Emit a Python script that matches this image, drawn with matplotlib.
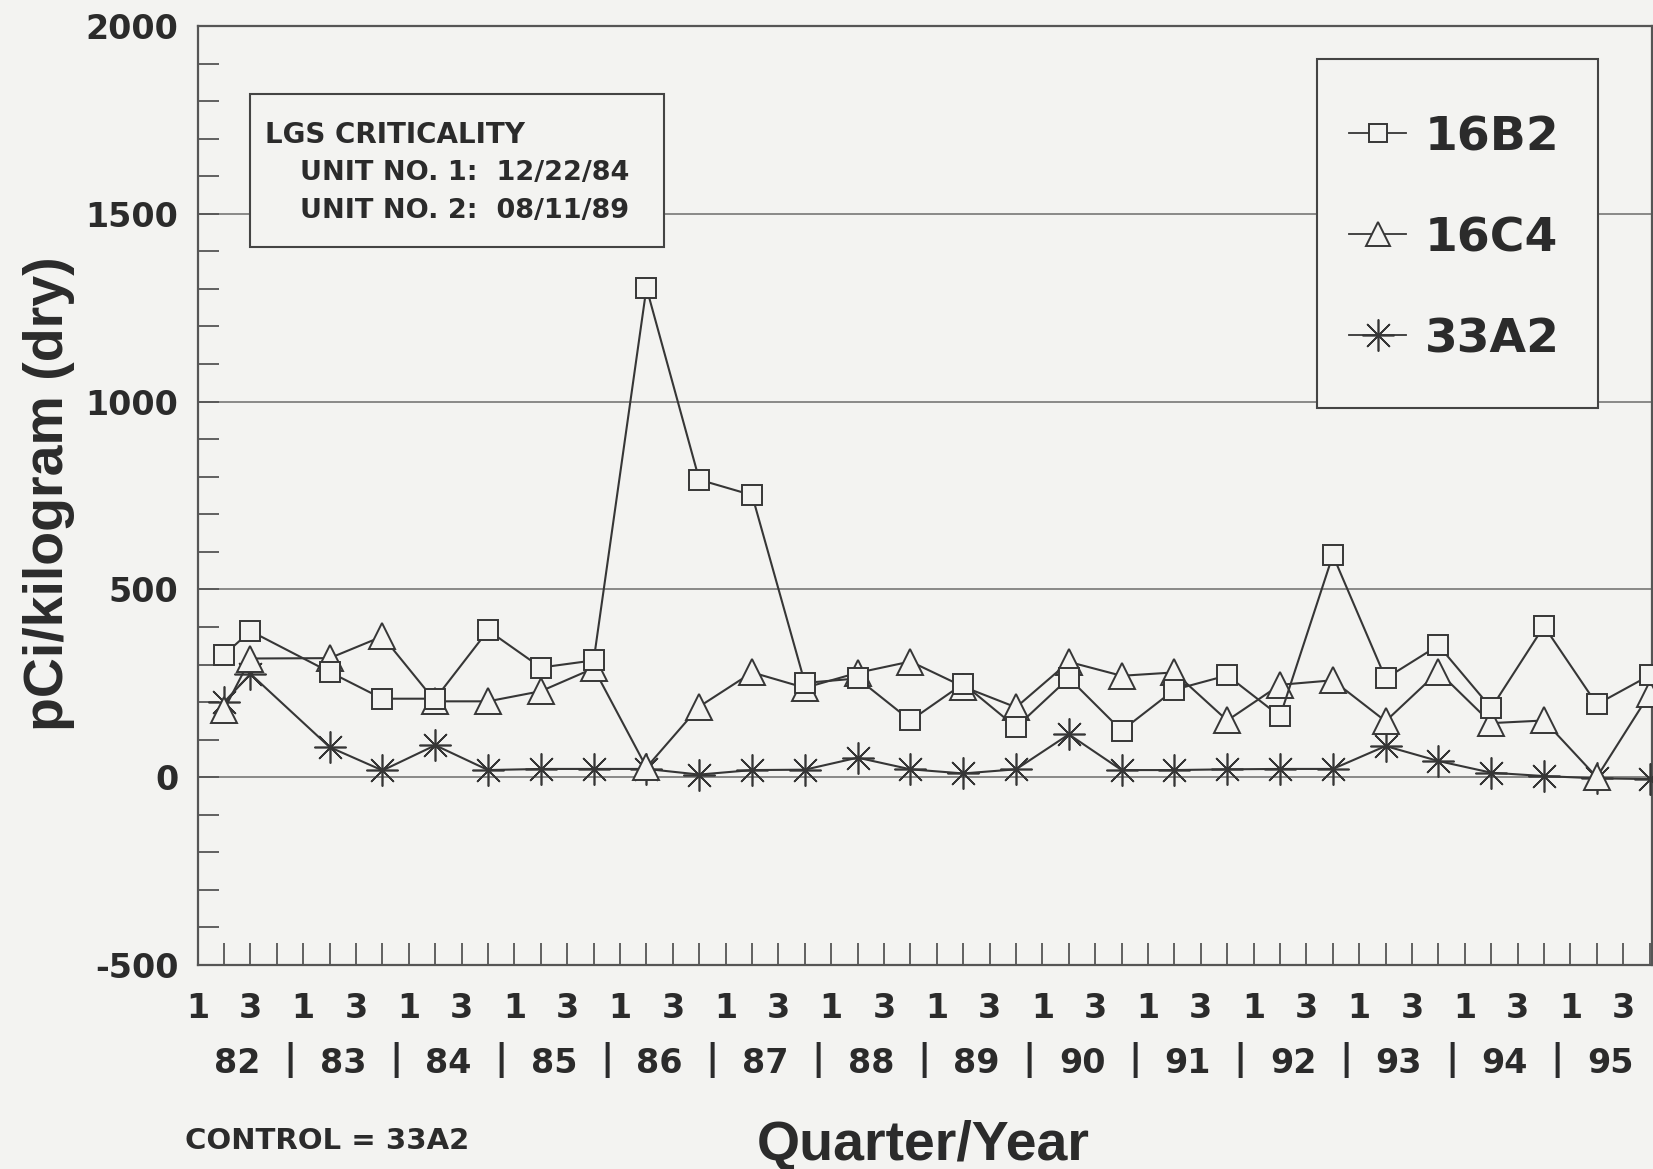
import matplotlib
matplotlib.use("Agg")
import matplotlib.pyplot as plt
from matplotlib.lines import Line2D
from matplotlib.patches import Rectangle
from matplotlib.ticker import MultipleLocator, FixedLocator

# ---------------- data ----------------
sample_year = [82, 82, 83, 83, 84, 84, 85, 85, 86, 86, 87, 87, 88, 88,
               89, 89, 90, 90, 91, 91, 92, 92, 93, 93, 94, 94, 95, 95]
sample_quarter = [2, 3, 2, 4, 2, 4, 2, 4, 2, 4, 2, 4, 2, 4,
                  2, 4, 2, 4, 2, 4, 2, 4, 2, 4, 2, 4, 2, 4]

s16B2 = [326, 389, 280, 209, 209, 391, 292, 311, 1303, 792, 751, 251,
         263, 151, 249, 133, 264, 124, 233, 271, 162, 591, 263, 351,
         184, 402, 194, 271]
s16C4 = [180, 316, 317, 375, 202, 202, 229, 290, 26, 188, 279, 238,
         278, 308, 241, 186, 307, 270, 279, 151, 246, 258, 149, 281,
         144, 151, 0, 222]
s33A2 = [200, 275, 80, 18, 85, 19, 22, 22, 22, 7, 19, 20,
         52, 21, 10, 21, 114, 19, 19, 21, 22, 22, 83, 43,
         12, 3, -3, -5]

years = ["82", "83", "84", "85", "86", "87", "88", "89", "90", "91",
         "92", "93", "94", "95"]
quarter_tick_labels = ["1", "", "3", ""]
y_ticks = [-500, 0, 500, 1000, 1500, 2000]
y_tick_labels = ["-500", "0", "500", "1000", "1500", "2000"]
series_names = ["16B2", "16C4", "33A2"]

# ---------------- style ----------------
W, H = 1653, 1169
BG = "#f3f3f1"
INK = "#2b2b2b"
LINE = "#363636"
GRID = "#808080"
TICKFONT = dict(family="DejaVu Sans", weight="bold")
LABFONT = dict(family="Liberation Sans", weight="bold")


def fx(px):
    return px / W


def fy(py):
    return 1 - py / H


fig = plt.figure(figsize=(W / 100, H / 100), dpi=100, facecolor=BG)
ax_left, ax_right, ax_top, ax_bot = 197.7, 1652.0, 26.0, 965.0
ax = fig.add_axes([fx(ax_left), fy(ax_bot), (ax_right - ax_left) / W,
                   (ax_bot - ax_top) / H])
ax.set_facecolor(BG)

x = [(yr - 82) * 4 + (q - 1) for yr, q in zip(sample_year, sample_quarter)]
n_quarters = len(years) * 4

styles = {
    "16B2": dict(marker="s", ms=14, mfc=BG, mec=LINE, mew=1.4),
    "16C4": dict(marker="^", ms=19, mfc=BG, mec=LINE, mew=1.4),
    "33A2": dict(marker=(8, 2, 0), ms=23, mfc=LINE, mec=LINE, mew=1.2),
}
series = {"16B2": s16B2, "16C4": s16C4, "33A2": s33A2}
z = {"33A2": 3, "16C4": 4, "16B2": 5}
for name in ["33A2", "16C4", "16B2"]:
    ax.plot(x, series[name], color=LINE, lw=1.5, zorder=z[name],
            clip_on=False, **styles[name])

ax.set_xlim(0, 55.09)
ax.set_ylim(-500, 2000)

# grid
ax.set_yticks(y_ticks)
ax.set_yticklabels(y_tick_labels, color=INK, fontsize=24, **TICKFONT)
ax.yaxis.set_minor_locator(MultipleLocator(100))
ax.grid(axis="y", which="major", color=GRID, lw=1.3, zorder=1)
ax.set_axisbelow(True)
ax.tick_params(axis="y", which="both", direction="in", length=15,
               width=1.3, color="#555555", pad=14)

ax.xaxis.set_major_locator(FixedLocator(range(n_quarters)))
ax.set_xticklabels([quarter_tick_labels[i % 4] for i in range(n_quarters)],
                   color=INK, fontsize=24, **TICKFONT)
ax.tick_params(axis="x", which="major", direction="in", length=16,
               width=1.3, color="#555555", pad=19.5)

for sp in ax.spines.values():
    sp.set_color("#555555")
    sp.set_linewidth(1.6)

# year row
xtr = ax.get_xaxis_transform()
yrow = -(1073 - ax_bot) / (ax_bot - ax_top)
for k, yr in enumerate(years):
    ax.text(k * 4 + 1.5, yrow, yr, transform=xtr, ha="center",
            va="baseline", fontsize=24, color=INK, clip_on=False, **TICKFONT)
    if k < len(years) - 1:
        ax.text(k * 4 + 3.5, yrow + 0.004, "|", transform=xtr, ha="center",
                va="baseline", fontsize=26, color=INK, clip_on=False,
                **TICKFONT)

# axis labels
fig.text(fx(49), fy(494), "pCi/kilogram (dry)", rotation=90, ha="center",
         va="center", fontsize=40, color=INK, **LABFONT)
fig.text(fx(923.5), fy(1160), "Quarter/Year", ha="center", va="baseline",
         fontsize=40, color=INK, **LABFONT)
fig.text(fx(185), fy(1149), "CONTROL = 33A2", ha="left", va="baseline",
         fontsize=21, color=INK, **TICKFONT)

# annotation box
fig.patches.append(Rectangle((fx(250), fy(247)), (664 - 250) / W,
                             (247 - 94) / H, transform=fig.transFigure,
                             facecolor=BG, edgecolor="#444444", lw=1.5,
                             zorder=2))
fig.text(fx(265), fy(143), "LGS CRITICALITY", fontsize=20, color=INK,
         va="baseline", zorder=3, **TICKFONT)
fig.text(fx(300), fy(180), "UNIT NO. 1:  12/22/84", fontsize=19.5,
         color=INK, va="baseline", zorder=3, **TICKFONT)
fig.text(fx(300), fy(218), "UNIT NO. 2:  08/11/89", fontsize=19.5,
         color=INK, va="baseline", zorder=3, **TICKFONT)

# legend (drawn manually)
fig.patches.append(Rectangle((fx(1316.7), fy(408.3)), (1597.7 - 1316.7) / W,
                             (408.3 - 59.3) / H, transform=fig.transFigure,
                             facecolor=BG, edgecolor="#444444", lw=1.5,
                             zorder=2))
for i, name in enumerate(series_names):
    yc = 133 + 101 * i
    st = dict(styles[name])
    if name != "33A2":
        st["ms"] = st["ms"] * 0.9
    ln = Line2D([fx(1349), fx(1377.7), fx(1406)], [fy(yc)] * 3,
                transform=fig.transFigure, color=LINE, lw=1.3,
                markevery=[1], zorder=3, **st)
    fig.lines.append(ln)
    fig.text(fx(1425), fy(yc + 17.5), name, fontsize=34, color=INK,
             va="baseline", zorder=3, **TICKFONT)

fig.savefig("out.png", dpi=100, facecolor=BG)
